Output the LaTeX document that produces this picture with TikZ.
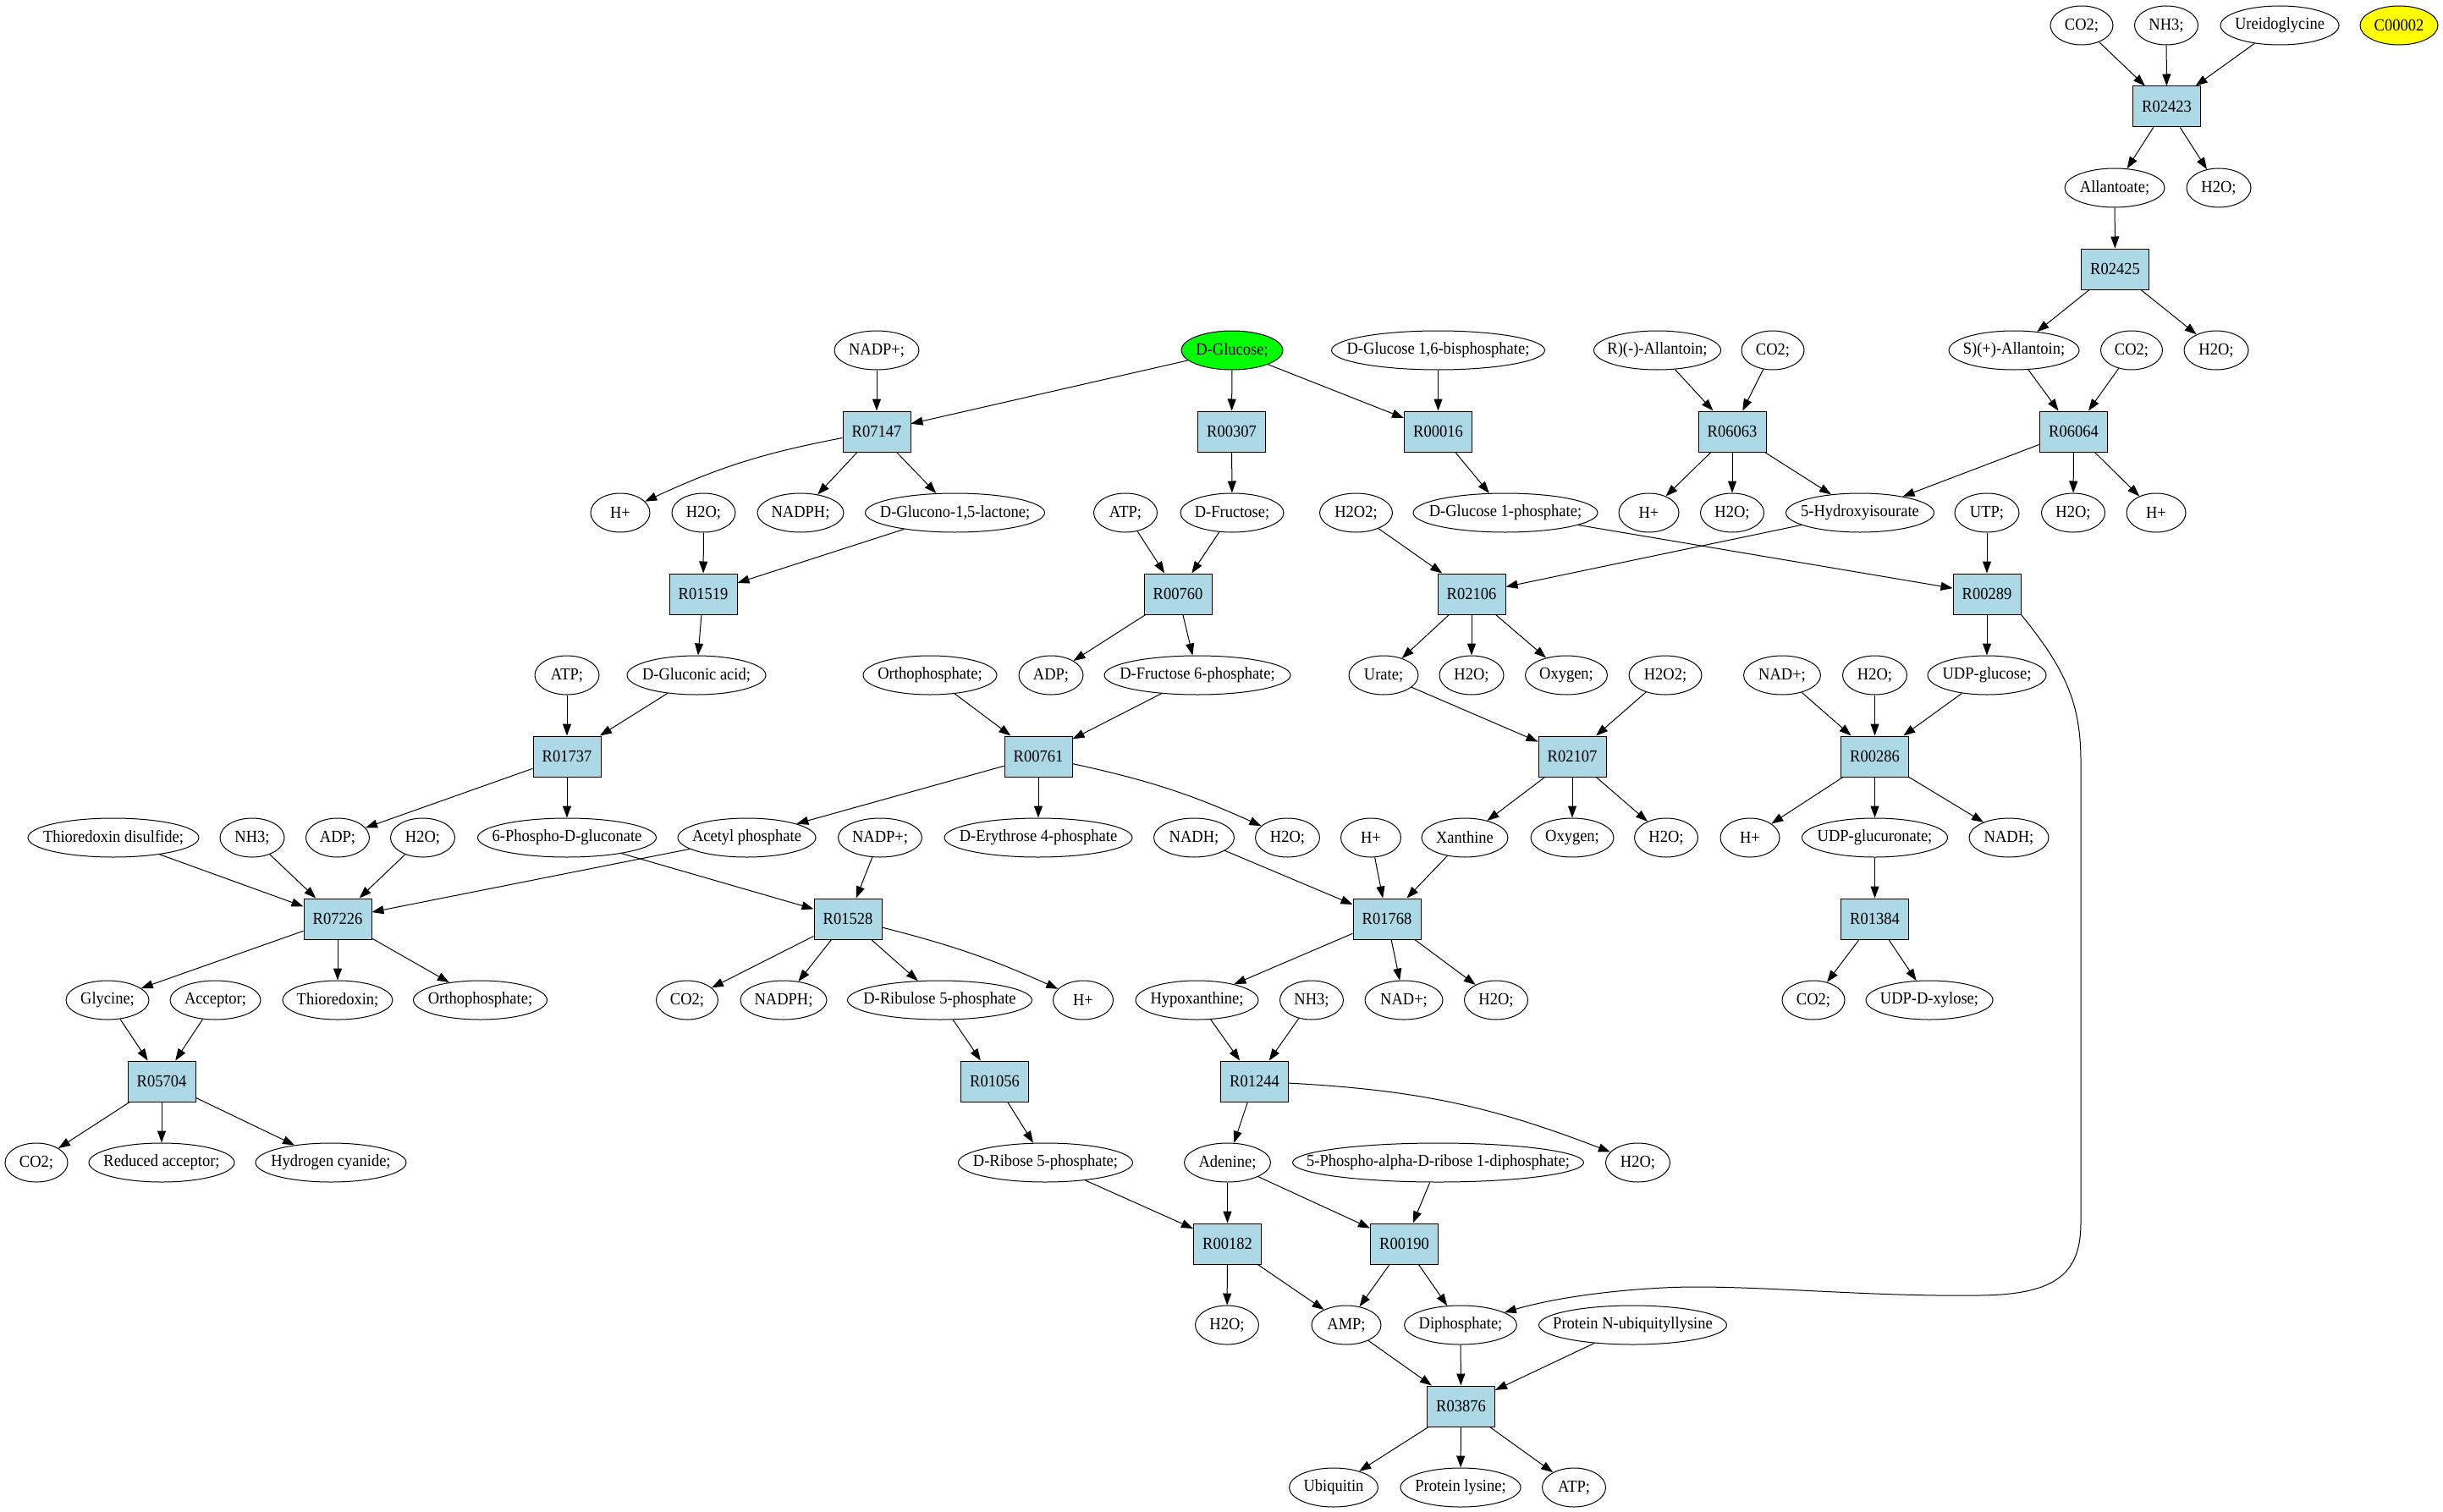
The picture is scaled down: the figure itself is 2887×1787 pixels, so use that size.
\documentclass[tikz,border=0pt]{standalone}
\usepackage{fontspec}
\setmainfont[FakeStretch=0.925]{Liberation Serif}
\usetikzlibrary{shapes.geometric,arrows.meta}
\definecolor{rxnblue}{HTML}{ADD8E6}
\definecolor{gvgreen}{HTML}{00FF00}
\definecolor{gvyellow}{HTML}{FFFF00}
\newcommand\zw[1]{\makebox[0pt]{#1}}
\tikzset{
  met/.style={ellipse, draw, line width=1pt, minimum height=46pt, inner sep=0pt, font=\fontsize{20}{22}\selectfont},
  rxn/.style={rectangle, draw, line width=1pt, fill=rxnblue, minimum width=80pt, minimum height=48pt, inner sep=0pt, font=\fontsize{20}{22}\selectfont},
  arr/.style={-{Triangle[length=14pt,width=10pt]}, line width=1pt}
}
\begin{document}
\begin{tikzpicture}[x=1pt,y=-1pt]
\useasboundingbox[fill=white] (0,0) rectangle (2887,1787);
% row 0
\node[met, minimum width=74pt] (co2a) at (2460,30) {\zw{CO2;}};
\node[met, minimum width=75pt] (nh3a) at (2560,30) {\zw{NH3;}};
\node[met, minimum width=140pt] (ureido) at (2694,30) {\zw{Ureidoglycine}};
\node[met, minimum width=92pt, fill=gvyellow] (c00002) at (2835,30) {\zw{C00002}};
% row 1
\node[rxn] (R02423) at (2560.5,126) {R02423};
% row 2
\node[met, minimum width=118pt] (allantoate) at (2499,222) {\zw{Allantoate;}};
\node[met, minimum width=76pt] (h2ob) at (2622,222) {\zw{H2O;}};
% row 3
\node[rxn] (R02425) at (2499.5,318) {R02425};
% row 4
\node[met, minimum width=100pt] (nadpa) at (1036,414) {\zw{NADP+;}};
\node[met, minimum width=120pt, fill=gvgreen] (glucose) at (1456,414) {\zw{D-Glucose;}};
\node[met, minimum width=252pt] (g16bp) at (1699.5,414) {\zw{D-Glucose 1,6-bisphosphate;}};
\node[met, minimum width=150pt] (rallantoin) at (1958.5,414) {\zw{R)(-)-Allantoin;}};
\node[met, minimum width=74pt] (co2h) at (2095,414) {\zw{CO2;}};
\node[met, minimum width=154pt] (sallantoin) at (2380,414) {\zw{S)(+)-Allantoin;}};
\node[met, minimum width=73pt] (co2c) at (2519,414) {\zw{CO2;}};
\node[met, minimum width=76pt] (h2oc) at (2619,414) {\zw{H2O;}};
% row 5
\node[rxn] (R07147) at (1036,510) {R07147};
\node[rxn] (R00307) at (1455.5,510) {R00307};
\node[rxn] (R00016) at (1699.5,510) {R00016};
\node[rxn] (R06063) at (2047,510) {R06063};
\node[rxn] (R06064) at (2450.5,510) {R06064};
% row 6
\node[met, minimum width=70pt] (hpb) at (733,606) {\zw{H+}};
\node[met, minimum width=75pt] (h2ob2) at (831.5,606) {\zw{H2O;}};
\node[met, minimum width=102pt] (nadphb) at (946,606) {\zw{NADPH;}};
\node[met, minimum width=212pt] (glucono) at (1128.5,606) {\zw{D-Glucono-1,5-lactone;}};
\node[met, minimum width=75pt] (atpc) at (1330,606) {\zw{ATP;}};
\node[met, minimum width=122pt] (fructose) at (1456,606) {\zw{D-Fructose;}};
\node[met, minimum width=86pt] (h2o2i) at (1602.5,606) {\zw{H2O2;}};
\node[met, minimum width=218pt] (g1p) at (1779,606) {\zw{D-Glucose 1-phosphate;}};
\node[met, minimum width=71pt] (hpj) at (1948.5,606) {\zw{H+}};
\node[met, minimum width=75pt] (h2oj) at (2047,606) {\zw{H2O;}};
\node[met, minimum width=175pt] (hiu) at (2198,606) {\zw{5-Hydroxyisourate}};
\node[met, minimum width=76pt] (utp) at (2348,606) {\zw{UTP;}};
\node[met, minimum width=75pt] (h2od) at (2450,606) {\zw{H2O;}};
\node[met, minimum width=70pt] (hpd) at (2548,606) {\zw{H+}};
% row 7
\node[rxn] (R01519) at (831,702) {R01519};
\node[rxn] (R00760) at (1392,702) {R00760};
\node[rxn] (R02106) at (1739,702) {R02106};
\node[rxn] (R00289) at (2348,702) {R00289};
% row 8
\node[met, minimum width=76pt] (atp1) at (670,798) {\zw{ATP;}};
\node[met, minimum width=164pt] (gluconic) at (823,798) {\zw{D-Gluconic acid;}};
\node[met, minimum width=158pt] (orthoc) at (1099,798) {\zw{Orthophosphate;}};
\node[met, minimum width=76pt] (adpc) at (1242,798) {\zw{ADP;}};
\node[met, minimum width=220pt] (f6p) at (1415,798) {\zw{D-Fructose 6-phosphate;}};
\node[met, minimum width=82pt] (urate) at (1635,798) {\zw{Urate;}};
\node[met, minimum width=76pt] (h2ok) at (1739,798) {\zw{H2O;}};
\node[met, minimum width=97pt] (oxyk) at (1851,798) {\zw{Oxygen;}};
\node[met, minimum width=86pt] (h2o2l) at (1968,798) {\zw{H2O2;}};
\node[met, minimum width=91pt] (nadpe) at (2106,798) {\zw{NAD+;}};
\node[met, minimum width=76pt] (h2oe) at (2215.5,798) {\zw{H2O;}};
\node[met, minimum width=140pt] (udpglc) at (2348,798) {\zw{UDP-glucose;}};
% row 9
\node[rxn] (R01737) at (670,894) {R01737};
\node[rxn] (R00761) at (1227,894) {R00761};
\node[rxn] (R02107) at (1858,894) {R02107};
\node[rxn] (R00286) at (2215.5,894) {R00286};
% row 10
\node[met, minimum width=202pt] (thiodis) at (134,990) {\zw{Thioredoxin disulfide;}};
\node[met, minimum width=76pt] (nh32) at (298,990) {\zw{NH3;}};
\node[met, minimum width=75pt] (adp2) at (399,990) {\zw{ADP;}};
\node[met, minimum width=76pt] (h2o2) at (499.5,990) {\zw{H2O;}};
\node[met, minimum width=211pt] (pgluc) at (670,990) {\zw{6-Phospho-D-gluconate}};
\node[met, minimum width=163pt] (acetylp) at (882.5,990) {\zw{Acetyl phosphate}};
\node[met, minimum width=99pt] (nadp2) at (1040,990) {\zw{NADP+;}};
\node[met, minimum width=222pt] (e4p) at (1227,990) {\zw{D-Erythrose 4-phosphate}};
\node[met, minimum width=95pt] (nadh2) at (1411,990) {\zw{NADH;}};
\node[met, minimum width=76pt] (h2om) at (1521.5,990) {\zw{H2O;}};
\node[met, minimum width=71pt] (hpn) at (1620,990) {\zw{H+}};
\node[met, minimum width=102pt] (xanthine) at (1731,990) {\zw{Xanthine}};
\node[met, minimum width=98pt] (oxyn) at (1858,990) {\zw{Oxygen;}};
\node[met, minimum width=75pt] (h2on) at (1969,990) {\zw{H2O;}};
\node[met, minimum width=70pt] (hpo) at (2068,990) {\zw{H+}};
\node[met, minimum width=172pt] (udpgluc) at (2215.5,990) {\zw{UDP-glucuronate;}};
\node[met, minimum width=94pt] (nadhf) at (2374,990) {\zw{NADH;}};
% row 11
\node[rxn] (R07226) at (399,1086) {R07226};
\node[rxn] (R01528) at (1002,1086) {R01528};
\node[rxn] (R01768) at (1639,1086) {R01768};
\node[rxn] (R01384) at (2215.5,1086) {R01384};
% row 12
\node[met, minimum width=98pt] (glycine) at (127,1182) {\zw{Glycine;}};
\node[met, minimum width=107pt] (acceptor) at (254.5,1182) {\zw{Acceptor;}};
\node[met, minimum width=130pt] (thio) at (399,1182) {\zw{Thioredoxin;}};
\node[met, minimum width=158pt] (ortho2) at (567.5,1182) {\zw{Orthophosphate;}};
\node[met, minimum width=73pt] (co24) at (812,1182) {\zw{CO2;}};
\node[met, minimum width=102pt] (nadph4) at (926,1182) {\zw{NADPH;}};
\node[met, minimum width=218pt] (ru5p) at (1110.5,1182) {\zw{D-Ribulose 5-phosphate}};
\node[met, minimum width=71pt] (hp4) at (1280,1182) {\zw{H+}};
\node[met, minimum width=145pt] (hypox) at (1414.5,1182) {\zw{Hypoxanthine;}};
\node[met, minimum width=75pt] (nh3p) at (1550,1182) {\zw{NH3;}};
\node[met, minimum width=92pt] (nadpp) at (1659,1182) {\zw{NAD+;}};
\node[met, minimum width=75pt] (h2op) at (1768,1182) {\zw{H2O;}};
\node[met, minimum width=74pt] (co2g) at (2143,1182) {\zw{CO2;}};
\node[met, minimum width=150pt] (udpxyl) at (2280,1182) {\zw{UDP-D-xylose;}};
% row 13
\node[rxn] (R05704) at (191,1278) {R05704};
\node[rxn] (R01056) at (1175.5,1278) {R01056};
\node[rxn] (R01244) at (1482.5,1278) {R01244};
% row 14
\node[met, minimum width=74pt] (co23) at (43,1374) {\zw{CO2;}};
\node[met, minimum width=172pt] (redacc) at (191,1374) {\zw{Reduced acceptor;}};
\node[met, minimum width=178pt] (hcn) at (391,1374) {\zw{Hydrogen cyanide;}};
\node[met, minimum width=206pt] (r5p) at (1235.5,1374) {\zw{D-Ribose 5-phosphate;}};
\node[met, minimum width=102pt] (adenine) at (1450.5,1374) {\zw{Adenine;}};
\node[met, minimum width=344pt] (prpp) at (1699.5,1374) {\zw{5-Phospho-alpha-D-ribose 1-diphosphate;}};
\node[met, minimum width=76pt] (h2oq) at (1935.5,1374) {\zw{H2O;}};
% row 15
\node[rxn] (R00182) at (1450.5,1470) {R00182};
\node[rxn] (R00190) at (1659.5,1470) {R00190};
% row 16
\node[met, minimum width=75pt] (h2or) at (1450,1566) {\zw{H2O;}};
\node[met, minimum width=82pt] (amp) at (1591,1566) {\zw{AMP;}};
\node[met, minimum width=133pt] (diphos) at (1726,1566) {\zw{Diphosphate;}};
\node[met, minimum width=222pt] (protnub) at (1929.5,1566) {\zw{Protein N-ubiquityllysine}};
% row 17
\node[rxn] (R03876) at (1726.5,1662) {R03876};
% row 18
\node[met, minimum width=105pt] (ubiq) at (1576,1758) {\zw{Ubiquitin}};
\node[met, minimum width=142pt] (protlys) at (1726,1758) {\zw{Protein lysine;}};
\node[met, minimum width=75pt] (atps) at (1860,1758) {\zw{ATP;}};

% edges
\draw[arr] (co2a) -- (R02423);
\draw[arr] (nh3a) -- (R02423);
\draw[arr] (ureido) -- (R02423);
\draw[arr] (R02423) -- (allantoate);
\draw[arr] (R02423) -- (h2ob);
\draw[arr] (allantoate) -- (R02425);
\draw[arr] (R02425) -- (sallantoin);
\draw[arr] (R02425) -- (h2oc);
\draw[arr] (sallantoin) -- (R06064);
\draw[arr] (co2c) -- (R06064);
\draw[arr] (R06064) -- (hiu);
\draw[arr] (R06064) -- (h2od);
\draw[arr] (R06064) -- (hpd);
\draw[arr] (nadpa) -- (R07147);
\draw[arr] (glucose) -- (R07147);
\draw[arr] (glucose) -- (R00307);
\draw[arr] (glucose) -- (R00016);
\draw[arr] (g16bp) -- (R00016);
\draw[arr] (rallantoin) -- (R06063);
\draw[arr] (co2h) -- (R06063);
\draw[arr] (R07147) to[bend right=7] (hpb);
\draw[arr] (R07147) -- (nadphb);
\draw[arr] (R07147) -- (glucono);
\draw[arr] (R00307) -- (fructose);
\draw[arr] (R00016) -- (g1p);
\draw[arr] (R06063) -- (hpj);
\draw[arr] (R06063) -- (h2oj);
\draw[arr] (R06063) -- (hiu);
\draw[arr] (h2ob2) -- (R01519);
\draw[arr] (glucono) -- (R01519);
\draw[arr] (atpc) -- (R00760);
\draw[arr] (fructose) -- (R00760);
\draw[arr] (h2o2i) -- (R02106);
\draw[arr] (hiu) -- (R02106);
\draw[arr] (g1p) -- (R00289);
\draw[arr] (utp) -- (R00289);
\draw[arr] (R01519) -- (gluconic);
\draw[arr] (R00760) -- (adpc);
\draw[arr] (R00760) -- (f6p);
\draw[arr] (R02106) -- (urate);
\draw[arr] (R02106) -- (h2ok);
\draw[arr] (R02106) -- (oxyk);
\draw[arr] (R00289) -- (udpglc);
\draw[arr] (R00289.south east) .. controls (2440,790) and (2459,830) .. (2459,900)
   -- (2459,1445) .. controls (2459,1505) and (2430,1530) .. (2340,1531)
   .. controls (2200,1533) and (2060,1517) .. (1965,1522)
   .. controls (1890,1526) and (1830,1536) .. (diphos);
\draw[arr] (atp1) -- (R01737);
\draw[arr] (gluconic) -- (R01737);
\draw[arr] (orthoc) -- (R00761);
\draw[arr] (f6p) -- (R00761);
\draw[arr] (urate) -- (R02107);
\draw[arr] (h2o2l) -- (R02107);
\draw[arr] (nadpe) -- (R00286);
\draw[arr] (h2oe) -- (R00286);
\draw[arr] (udpglc) -- (R00286);
\draw[arr] (R01737) -- (adp2);
\draw[arr] (R01737) -- (pgluc);
\draw[arr] (R00761) -- (acetylp);
\draw[arr] (R00761) -- (e4p);
\draw[arr] (R00761) to[bend left=6] (h2om);
\draw[arr] (R02107) -- (xanthine);
\draw[arr] (R02107) -- (oxyn);
\draw[arr] (R02107) -- (h2on);
\draw[arr] (R00286) -- (hpo);
\draw[arr] (R00286) -- (udpgluc);
\draw[arr] (R00286) -- (nadhf);
\draw[arr] (thiodis) -- (R07226);
\draw[arr] (nh32) -- (R07226);
\draw[arr] (h2o2) -- (R07226);
\draw[arr] (acetylp) -- (R07226);
\draw[arr] (pgluc) -- (R01528);
\draw[arr] (nadp2) -- (R01528);
\draw[arr] (nadh2) -- (R01768);
\draw[arr] (hpn) -- (R01768);
\draw[arr] (xanthine) -- (R01768);
\draw[arr] (udpgluc) -- (R01384);
\draw[arr] (R07226) -- (glycine);
\draw[arr] (R07226) -- (thio);
\draw[arr] (R07226) -- (ortho2);
\draw[arr] (R01528) -- (co24);
\draw[arr] (R01528) -- (nadph4);
\draw[arr] (R01528) -- (ru5p);
\draw[arr] (R01528) to[bend left=5] (hp4);
\draw[arr] (R01768) -- (hypox);
\draw[arr] (R01768) -- (nadpp);
\draw[arr] (R01768) -- (h2op);
\draw[arr] (R01384) -- (co2g);
\draw[arr] (R01384) -- (udpxyl);
\draw[arr] (glycine) -- (R05704);
\draw[arr] (acceptor) -- (R05704);
\draw[arr] (ru5p) -- (R01056);
\draw[arr] (hypox) -- (R01244);
\draw[arr] (nh3p) -- (R01244);
\draw[arr] (R05704) -- (co23);
\draw[arr] (R05704) -- (redacc);
\draw[arr] (R05704) -- (hcn);
\draw[arr] (R01056) -- (r5p);
\draw[arr] (R01244) -- (adenine);
\draw[arr] (R01244) to[bend left=9] (h2oq);
\draw[arr] (r5p) -- (R00182);
\draw[arr] (adenine) -- (R00182);
\draw[arr] (adenine) -- (R00190);
\draw[arr] (prpp) -- (R00190);
\draw[arr] (R00182) -- (h2or);
\draw[arr] (R00182) -- (amp);
\draw[arr] (R00190) -- (amp);
\draw[arr] (R00190) -- (diphos);
\draw[arr] (amp) -- (R03876);
\draw[arr] (diphos) -- (R03876);
\draw[arr] (protnub) -- (R03876);
\draw[arr] (R03876) -- (ubiq);
\draw[arr] (R03876) -- (protlys);
\draw[arr] (R03876) -- (atps);
\end{tikzpicture}
\end{document}
